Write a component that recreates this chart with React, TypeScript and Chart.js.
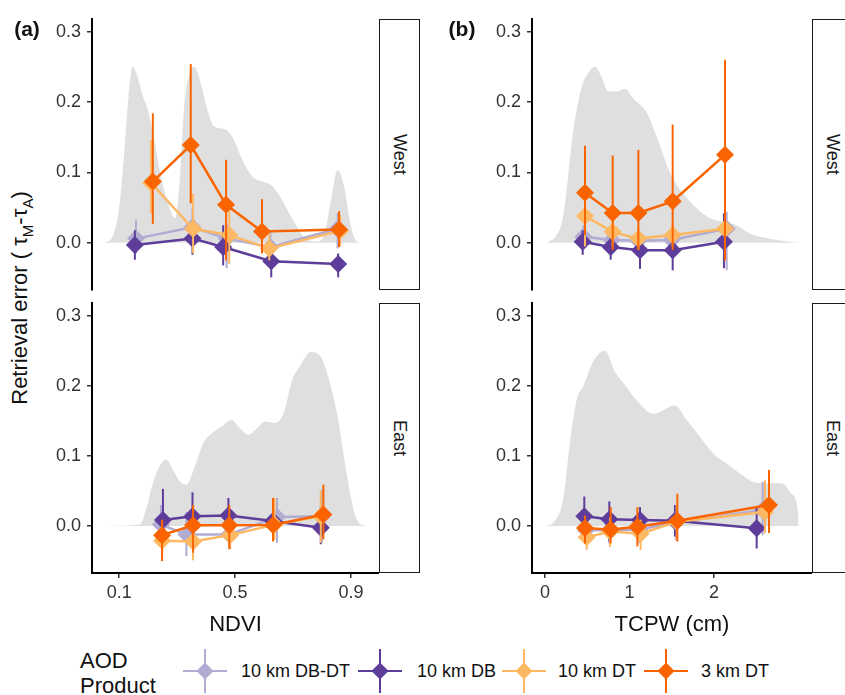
import React, { useEffect, useRef } from "react";
import { Chart, registerables } from "chart.js";

Chart.register(...registerables);

// ---------- data ----------
const SERIES_NAMES = ["10 km DB-DT", "10 km DB", "10 km DT", "3 km DT"];
const SERIES_COLORS = ["#B2ABD2", "#5E3C99", "#FDB863", "#FA6400"];
const DENSITY_COLOR = "#DFDFDF";
const Y_TICKS = [0, 0.1, 0.2, 0.3];
const NDVI_TICKS = [0.1, 0.5, 0.9];
const TCPW_TICKS = [0, 1, 2];
const REGIONS = ["West", "East"];

// [x, mean, lower, upper]
const ndviWestDBDT = [[0.158, 0.006, -0.015, 0.032], [0.353, 0.022, -0.005, 0.05], [0.471, 0.006, -0.036, 0.027], [0.622, -0.006, -0.025, 0.018], [0.854, 0.02, -0.008, 0.042]];
const ndviWestDB = [[0.154, -0.003, -0.024, 0.018], [0.353, 0.006, -0.017, 0.023], [0.459, -0.006, -0.032, 0.025], [0.625, -0.026, -0.049, -0.01], [0.856, -0.03, -0.049, -0.015]];
const ndviWestDT = [[0.21, 0.085, 0.042, 0.146], [0.355, 0.02, -0.015, 0.07], [0.48, 0.011, -0.03, 0.05], [0.618, -0.008, -0.025, 0.013], [0.863, 0.017, -0.005, 0.04]];
const ndviWest3km = [[0.216, 0.087, 0.027, 0.184], [0.347, 0.139, 0.056, 0.254], [0.469, 0.054, -0.025, 0.118], [0.593, 0.016, -0.015, 0.062], [0.859, 0.019, -0.006, 0.045]];

const ndviEastDBDT = [[0.244, 0.002, -0.02, 0.03], [0.332, -0.012, -0.043, 0.02], [0.48, -0.012, -0.03, 0.01], [0.645, 0.013, -0.024, 0.04], [0.8, 0.014, -0.024, 0.052]];
const ndviEastDB = [[0.251, 0.0085, -0.028, 0.053], [0.353, 0.014, -0.02, 0.048], [0.477, 0.015, -0.014, 0.04], [0.631, 0.007, -0.02, 0.04], [0.796, -0.0025, -0.026, 0.028]];
const ndviEastDT = [[0.248, -0.021, -0.038, 0.005], [0.355, -0.022, -0.049, 0.0], [0.483, -0.013, -0.033, 0.01], [0.636, 0.002, -0.02, 0.04], [0.796, 0.014, -0.024, 0.05]];
const ndviEast3km = [[0.248, -0.013, -0.05, 0.009], [0.355, 0.001, -0.038, 0.03], [0.48, 0.001, -0.033, 0.03], [0.631, 0.0015, -0.022, 0.04], [0.805, 0.0165, -0.019, 0.059]];

const tcpwWestDBDT = [[0.454, 0.0085, -0.01, 0.025], [0.789, 0.004, -0.01, 0.02], [1.105, 0.003, -0.012, 0.018], [1.499, 0.004, -0.012, 0.02], [2.15, 0.02, -0.039, 0.044]];
const tcpwWestDB = [[0.446, 0.0015, -0.017, 0.018], [0.777, -0.006, -0.024, 0.011], [1.124, -0.0105, -0.037, 0.006], [1.511, -0.0105, -0.039, 0.006], [2.118, 0.0015, -0.036, 0.042]];
const tcpwWestDT = [[0.473, 0.038, -0.005, 0.088], [0.801, 0.0156, -0.005, 0.04], [1.105, 0.006, -0.01, 0.025], [1.511, 0.011, -0.005, 0.03], [2.13, 0.02, -0.025, 0.079]];
const tcpwWest3km = [[0.473, 0.071, 0.011, 0.138], [0.801, 0.0425, -0.01, 0.124], [1.105, 0.0425, -0.01, 0.132], [1.511, 0.059, -0.01, 0.168], [2.13, 0.125, -0.025, 0.26]];

const tcpwEastDBDT = [[0.485, -0.006, -0.025, 0.012], [0.761, -0.006, -0.025, 0.012], [1.116, -0.005, -0.025, 0.015], [1.55, 0.005, -0.02, 0.03], [2.576, 0.023, -0.013, 0.063]];
const tcpwEastDB = [[0.465, 0.014, -0.019, 0.042], [0.761, 0.0095, -0.022, 0.035], [1.124, 0.0085, -0.021, 0.027], [1.538, 0.0075, -0.015, 0.03], [2.505, -0.0033, -0.032, 0.028]];
const tcpwEastDT = [[0.493, -0.016, -0.034, 0.004], [0.769, -0.008, -0.03, 0.012], [1.132, -0.011, -0.034, 0.009], [1.558, 0.006, -0.02, 0.03], [2.604, 0.02, -0.01, 0.065]];
const tcpwEast3km = [[0.473, -0.003, -0.025, 0.015], [0.777, -0.005, -0.025, 0.027], [1.093, -0.001, -0.029, 0.027], [1.566, 0.0075, -0.022, 0.046], [2.651, 0.03, -0.01, 0.08]];

// density outlines [x, height]
const ndviWestDensity = [[0.048, 0], [0.077, 0.009], [0.1, 0.051], [0.117, 0.127], [0.132, 0.207], [0.146, 0.25], [0.163, 0.236], [0.181, 0.209], [0.198, 0.19], [0.221, 0.146], [0.244, 0.094], [0.273, 0.051], [0.293, 0.035], [0.309, 0.089], [0.324, 0.193], [0.342, 0.24], [0.359, 0.25], [0.382, 0.226], [0.405, 0.188], [0.428, 0.165], [0.462, 0.162], [0.491, 0.15], [0.526, 0.117], [0.56, 0.094], [0.595, 0.087], [0.624, 0.082], [0.652, 0.068], [0.687, 0.042], [0.721, 0.018], [0.75, 0.004], [0.79, 0.002], [0.813, 0.02], [0.831, 0.06], [0.854, 0.103], [0.877, 0.079], [0.9, 0.023], [0.923, 0.001], [0.952, 0]];
const ndviEastDensity = [[0.048, 0], [0.17, 0.002], [0.193, 0.024], [0.216, 0.061], [0.239, 0.085], [0.262, 0.095], [0.286, 0.08], [0.309, 0.064], [0.332, 0.059], [0.361, 0.085], [0.39, 0.118], [0.419, 0.132], [0.454, 0.142], [0.488, 0.151], [0.517, 0.139], [0.546, 0.13], [0.575, 0.139], [0.604, 0.149], [0.639, 0.147], [0.668, 0.161], [0.697, 0.208], [0.726, 0.229], [0.761, 0.248], [0.796, 0.241], [0.825, 0.208], [0.854, 0.156], [0.883, 0.08], [0.912, 0.019], [0.935, 0.002], [0.958, 0]];
const tcpwWestDensity = [[0.02, 0], [0.138, 0.011], [0.217, 0.039], [0.335, 0.16], [0.434, 0.221], [0.533, 0.245], [0.592, 0.25], [0.671, 0.235], [0.75, 0.215], [0.848, 0.215], [0.947, 0.219], [1.045, 0.205], [1.203, 0.185], [1.321, 0.151], [1.479, 0.1], [1.637, 0.07], [1.795, 0.049], [1.953, 0.035], [2.11, 0.03], [2.268, 0.025], [2.426, 0.013], [2.623, 0.007], [2.86, 0.002], [3.018, 0]];
const tcpwEastDensity = [[0.0, 0], [0.099, 0.005], [0.217, 0.04], [0.296, 0.12], [0.375, 0.18], [0.454, 0.2], [0.572, 0.235], [0.71, 0.25], [0.828, 0.22], [0.966, 0.198], [1.085, 0.179], [1.282, 0.16], [1.538, 0.172], [1.678, 0.151], [1.835, 0.127], [1.992, 0.103], [2.149, 0.089], [2.306, 0.075], [2.463, 0.063], [2.58, 0.061], [2.698, 0.0615], [2.816, 0.0607], [2.914, 0.046], [2.992, 0.023], [3.0, 0]];

// ---------- layout ----------
const FONT = "'Liberation Sans', Arial, Helvetica, sans-serif";
const Y_MIN = -0.067;
const Y_MAX = 0.318;
const AXIS_W = 52;
const PAD_T = 12;
const PAD_B = 12;
const X_AXIS_H = 40;

const errorBarPlugin = {
  id: "errorBars",
  beforeDatasetDraw(chart: any, args: any) {
    const ds = chart.data.datasets[args.index];
    if (!ds.isSeries) return;
    const { ctx, chartArea, scales } = chart;
    ctx.save();
    ctx.beginPath();
    ctx.rect(chartArea.left, chartArea.top, chartArea.width, chartArea.height);
    ctx.clip();
    ctx.strokeStyle = ds.borderColor;
    ctx.lineWidth = 2;
    ds.data.forEach((p: any) => {
      const px = scales.x.getPixelForValue(p.x);
      ctx.beginPath();
      ctx.moveTo(px, scales.y.getPixelForValue(p.lo));
      ctx.lineTo(px, scales.y.getPixelForValue(p.hi));
      ctx.stroke();
    });
    ctx.restore();
  },
};

function Panel(props: any) {
  const { left, top, plotW, plotH, xMin, xMax, xTicks, xFormat, showX, density, series } = props;
  const ref = useRef<HTMLCanvasElement>(null);
  const width = AXIS_W + plotW;
  const height = PAD_T + plotH + (showX ? X_AXIS_H : PAD_B);
  useEffect(() => {
    const datasets: any[] = series.map((rows: number[][], i: number) => ({
      label: SERIES_NAMES[i],
      isSeries: true,
      data: rows.map((r) => ({ x: r[0], y: r[1], lo: r[2], hi: r[3] })),
      borderColor: SERIES_COLORS[i],
      backgroundColor: SERIES_COLORS[i],
      borderWidth: 2.5,
      pointStyle: "rectRot",
      pointRadius: 9,
      pointBorderWidth: 0,
      pointBackgroundColor: SERIES_COLORS[i],
      fill: false,
      tension: 0,
      order: 4 - i,
    }));
    datasets.push({
      label: "density",
      data: density.map((d: number[]) => ({ x: d[0], y: d[1] })),
      fill: "origin",
      backgroundColor: DENSITY_COLOR,
      borderColor: "rgba(0,0,0,0)",
      borderWidth: 1,
      pointRadius: 0,
      cubicInterpolationMode: "monotone",
      order: 10,
    });
    const tickFont = { family: FONT, size: 18 };
    const chart = new Chart(ref.current as HTMLCanvasElement, {
      type: "line",
      data: { datasets },
      options: {
        responsive: false,
        maintainAspectRatio: false,
        animation: false,
        events: [],
        layout: { autoPadding: false, padding: { top: PAD_T, right: 0, bottom: showX ? 0 : PAD_B, left: 0 } },
        plugins: { legend: { display: false }, tooltip: { enabled: false } },
        scales: {
          x: {
            type: "linear",
            min: xMin,
            max: xMax,
            display: showX,
            afterBuildTicks: (s: any) => {
              s.ticks = xTicks.map((v: number) => ({ value: v }));
            },
            afterFit: (s: any) => {
              s.height = showX ? X_AXIS_H : 0;
              s.paddingLeft = 0;
              s.paddingRight = 0;
              s.paddingTop = 0;
              s.paddingBottom = 0;
            },
            ticks: { font: tickFont, color: "#333", padding: 4, maxRotation: 0, autoSkip: false, callback: (v: any) => xFormat(v) },
            grid: { display: true, drawOnChartArea: false, drawTicks: true, tickLength: 5, color: "#333", lineWidth: 1.5 },
            border: { display: true, color: "#000", width: 2 },
          },
          y: {
            type: "linear",
            min: Y_MIN,
            max: Y_MAX,
            afterBuildTicks: (s: any) => {
              s.ticks = Y_TICKS.map((v) => ({ value: v }));
            },
            afterFit: (s: any) => {
              s.width = AXIS_W;
              s.paddingTop = 0;
              s.paddingBottom = 0;
              s.paddingLeft = 0;
              s.paddingRight = 0;
            },
            ticks: { font: tickFont, color: "#333", padding: 6, autoSkip: false, callback: (v: any) => Number(v).toFixed(1) },
            grid: { display: true, drawOnChartArea: false, drawTicks: true, tickLength: 5, color: "#333", lineWidth: 1.5 },
            border: { display: true, color: "#000", width: 2 },
          },
        },
      } as any,
      plugins: [errorBarPlugin],
    });
    return () => chart.destroy();
  }, []);
  return (
    <canvas
      ref={ref}
      width={width}
      height={height}
      style={{ position: "absolute", left: left - AXIS_W, top: top - PAD_T, width, height }}
    />
  );
}

function Strip({ left, top, height, text }: any) {
  return (
    <div
      style={{
        position: "absolute",
        left,
        top,
        width: 41,
        height,
        boxSizing: "border-box",
        border: "1.5px solid #1a1a1a",
        display: "flex",
        alignItems: "center",
        justifyContent: "center",
        background: "#fff",
      }}
    >
      <span style={{ writingMode: "vertical-rl", fontSize: 18, color: "#1a1a1a", fontFamily: FONT }}>{text}</span>
    </div>
  );
}

function CText({ x, y, size, children, bold, rotate }: any) {
  return (
    <div
      style={{
        position: "absolute",
        left: x,
        top: y,
        transform: `translate(-50%, -50%)${rotate ? ` rotate(${rotate}deg)` : ""}`,
        fontSize: size,
        fontWeight: bold ? "bold" : "normal",
        fontFamily: FONT,
        lineHeight: 1,
        whiteSpace: "nowrap",
        color: "#111",
      }}
    >
      {children}
    </div>
  );
}

function LegendKey({ cx, cy, color }: any) {
  return (
    <>
      <div style={{ position: "absolute", left: cx - 22, top: cy - 1.2, width: 44, height: 2.4, background: color }} />
      <div style={{ position: "absolute", left: cx - 1, top: cy - 22, width: 2, height: 44, background: color }} />
      <div
        style={{
          position: "absolute",
          left: cx - 6,
          top: cy - 6,
          width: 12,
          height: 12,
          background: color,
          transform: "rotate(45deg)",
        }}
      />
    </>
  );
}

const A_LEFT = 92;
const B_LEFT = 532;
const A_W = 287;
const B_W = 280;
const TOP_Y = 19;
const TOP_H = 271;
const BOT_Y = 303;
const BOT_H = 270;

const LEGEND_KEY_X = [205, 380, 524, 666];
const LEGEND_TEXT_X = [241, 417, 558, 701];
const LEGEND_Y = 671;

export default function App() {
  const fmtNdvi = (v: number) => v.toFixed(1);
  const fmtTcpw = (v: number) => String(v);
  return (
    <div
      style={{
        position: "absolute",
        left: 0,
        top: 0,
        width: 845,
        height: 695,
        overflow: "hidden",
        background: "#fff",
        fontFamily: FONT,
      }}
    >
      <Panel left={A_LEFT} top={TOP_Y} plotW={A_W} plotH={TOP_H} xMin={0.006} xMax={0.997} xTicks={NDVI_TICKS} xFormat={fmtNdvi} showX={false} density={ndviWestDensity} series={[ndviWestDBDT, ndviWestDB, ndviWestDT, ndviWest3km]} />
      <Panel left={A_LEFT} top={BOT_Y} plotW={A_W} plotH={BOT_H} xMin={0.006} xMax={0.997} xTicks={NDVI_TICKS} xFormat={fmtNdvi} showX={true} density={ndviEastDensity} series={[ndviEastDBDT, ndviEastDB, ndviEastDT, ndviEast3km]} />
      <Panel left={B_LEFT} top={TOP_Y} plotW={B_W} plotH={TOP_H} xMin={-0.154} xMax={3.16} xTicks={TCPW_TICKS} xFormat={fmtTcpw} showX={false} density={tcpwWestDensity} series={[tcpwWestDBDT, tcpwWestDB, tcpwWestDT, tcpwWest3km]} />
      <Panel left={B_LEFT} top={BOT_Y} plotW={B_W} plotH={BOT_H} xMin={-0.154} xMax={3.16} xTicks={TCPW_TICKS} xFormat={fmtTcpw} showX={true} density={tcpwEastDensity} series={[tcpwEastDBDT, tcpwEastDB, tcpwEastDT, tcpwEast3km]} />

      <Strip left={A_LEFT + A_W} top={TOP_Y} height={TOP_H} text={REGIONS[0]} />
      <Strip left={A_LEFT + A_W} top={BOT_Y} height={BOT_H} text={REGIONS[1]} />
      <Strip left={B_LEFT + B_W} top={TOP_Y} height={TOP_H} text={REGIONS[0]} />
      <Strip left={B_LEFT + B_W} top={BOT_Y} height={BOT_H} text={REGIONS[1]} />

      <CText x={27} y={28} size={21} bold>(a)</CText>
      <CText x={462} y={28} size={21} bold>(b)</CText>

      <CText x={22} y={298} size={22} rotate={-90}>
        Retrieval error ( τ<sub style={{ fontSize: 15 }}>M</sub>-τ<sub style={{ fontSize: 15 }}>A</sub>)
      </CText>

      <CText x={(A_LEFT + A_LEFT + A_W) / 2} y={624} size={22}>NDVI</CText>
      <CText x={(B_LEFT + B_LEFT + B_W) / 2} y={624} size={22}>TCPW (cm)</CText>

      <div style={{ position: "absolute", left: 80, top: 648, fontSize: 22, lineHeight: "25px", color: "#111", fontFamily: FONT }}>
        AOD
        <br />
        Product
      </div>
      {SERIES_NAMES.map((name, i) => (
        <React.Fragment key={name}>
          <LegendKey cx={LEGEND_KEY_X[i]} cy={LEGEND_Y} color={SERIES_COLORS[i]} />
          <div
            style={{
              position: "absolute",
              left: LEGEND_TEXT_X[i],
              top: LEGEND_Y,
              transform: "translateY(-50%)",
              fontSize: 18,
              lineHeight: 1,
              whiteSpace: "nowrap",
              color: "#111",
              fontFamily: FONT,
            }}
          >
            {name}
          </div>
        </React.Fragment>
      ))}
    </div>
  );
}
